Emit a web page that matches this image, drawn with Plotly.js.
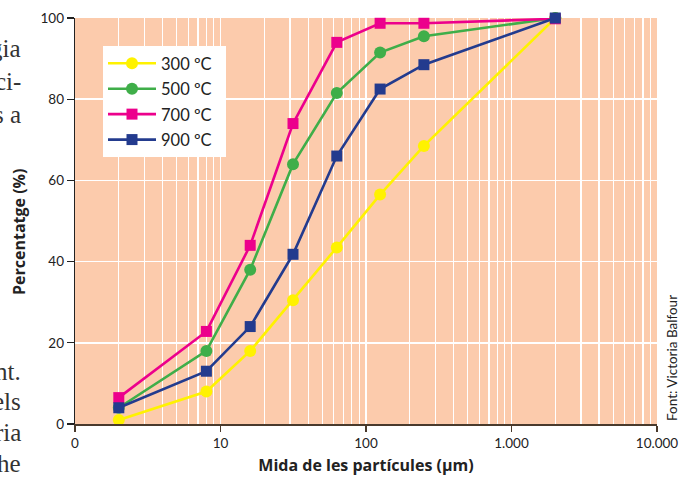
<!DOCTYPE html>
<html><head><meta charset="utf-8">
<script src="https://cdn.plot.ly/plotly-3.0.1.min.js"></script>
<style>html,body{margin:0;padding:0;background:#fff}#chart{width:680px;height:477px}</style>
</head><body><div id="chart"></div>
<script>
const sizes = [2, 8, 16, 31.5, 63, 125, 250, 2000];
const s300 = [1, 8, 18, 30.5, 43.5, 56.5, 68.5, 100];
const s500 = [4, 18, 38, 64, 81.5, 91.5, 95.5, 100];
const s700 = [6.5, 22.8, 44, 74, 94, 98.7, 98.7, 99.8];
const s900 = [4, 13, 24, 41.8, 66, 82.5, 88.5, 100];
const seriesNames = ['300 ºC', '500 ºC', '700 ºC', '900 ºC'];
const xTickVals = [1, 10, 100, 1000, 10000];
const xTickText = ['0', '10', '100', '1.000', '10.000'];
const minorDigits = [2, 3, 4, 5, 6, 7, 8, 9];
const yTickVals = [0, 20, 40, 60, 80, 100];
const sideTop = ['gia', 'ci-', 's a'];
const sideBottom = ['nt.', 'els', 'ria', 'he'];

const minorVals = [];
[1, 10, 100, 1000].forEach(d => minorDigits.forEach(k => minorVals.push(k * d)));

const colors = ['#fff200', '#3fae49', '#ec008c', '#233b8e'];
const symbols = ['circle', 'circle', 'square', 'square'];
const data = [s300, s500, s700, s900].map((ys, i) => ({
  x: sizes, y: ys, name: seriesNames[i] + '\u00a0\u00a0', type: 'scatter', mode: 'lines+markers',
  legendgroup: 'g' + i,
  line: {color: colors[i], width: 2.6},
  marker: {color: colors[i], symbol: symbols[i], size: i < 2 ? 12 : 11},
  cliponaxis: false
}));

const font = 'Lato, "Open Sans", sans-serif';
const boldFont = '"Open Sans", Lato, sans-serif';
const annotations = [];
const px2x = px => (px - 75) / 582;
const py2y = py => (424 - py) / 406;
const topY = [49, 81, 114];
sideTop.forEach((t, i) => annotations.push({text: t, xref: 'paper', yref: 'paper', x: px2x(23), y: py2y(topY[i]),
  xanchor: 'right', yanchor: 'middle', showarrow: false, font: {family: '"Liberation Serif", serif', size: 25, color: '#333'}}));
const botY = [371, 401, 432, 463];
sideBottom.forEach((t, i) => annotations.push({text: t, xref: 'paper', yref: 'paper', x: px2x(23), y: py2y(botY[i]),
  xanchor: 'right', yanchor: 'middle', showarrow: false, font: {family: '"Liberation Serif", serif', size: 25, color: '#333'}}));
annotations.push({text: 'Font: Victoria Balfour', xref: 'paper', yref: 'paper', x: px2x(672), y: py2y(358),
  xanchor: 'center', yanchor: 'middle', textangle: -90, showarrow: false, font: {family: font, size: 13.5, color: '#222'}});
annotations.push({text: '<b>Percentatge (%)</b>', xref: 'paper', yref: 'paper', x: px2x(19), y: py2y(232),
  xanchor: 'center', yanchor: 'middle', textangle: -90, showarrow: false, font: {family: boldFont, size: 16, color: '#222'}});

const layout = {
  width: 680, height: 477,
  margin: {l: 75, r: 23, t: 18, b: 53},
  paper_bgcolor: '#fff', plot_bgcolor: '#fccbac',
  font: {family: font, color: '#222', size: 13},
  showlegend: true,
  legend: {x: px2x(103), y: py2y(46), xanchor: 'left', yanchor: 'top', bgcolor: '#fff',
    font: {family: font, size: 16.5, color: '#222'}, tracegroupgap: 1, itemwidth: 48,
    traceorder: 'grouped', borderwidth: 0},
  xaxis: {
    type: 'log', range: [0, 4], tickvals: xTickVals, ticktext: xTickText,
    ticks: 'outside', ticklen: 6, tickcolor: '#4a3a2c', tickwidth: 1.3,
    showline: true, linecolor: '#4a3a2c', linewidth: 1.5,
    showgrid: true, gridcolor: '#ffffff', gridwidth: 1.5,
    minor: {tickmode: 'array', tickvals: minorVals, showgrid: true, gridcolor: '#ffffff', gridwidth: 1.2, ticks: ''},
    zeroline: false, tickfont: {size: 13.5, color: '#222'},
    title: {text: '<b>Mida de les partícules (μm)</b>', font: {family: boldFont, size: 16, color: '#222'}, standoff: 10}
  },
  yaxis: {
    range: [0, 100], tickvals: yTickVals,
    ticks: 'outside', ticklen: 7, tickcolor: '#222', tickwidth: 1.3,
    showline: true, linecolor: '#222', linewidth: 1.3,
    showgrid: true, gridcolor: '#ffffff', gridwidth: 1.5,
    zeroline: false, tickfont: {size: 13.5, color: '#222'}
  },
  annotations: annotations
};
Plotly.newPlot('chart', data, layout, {displayModeBar: false, staticPlot: true});
</script></body></html>
